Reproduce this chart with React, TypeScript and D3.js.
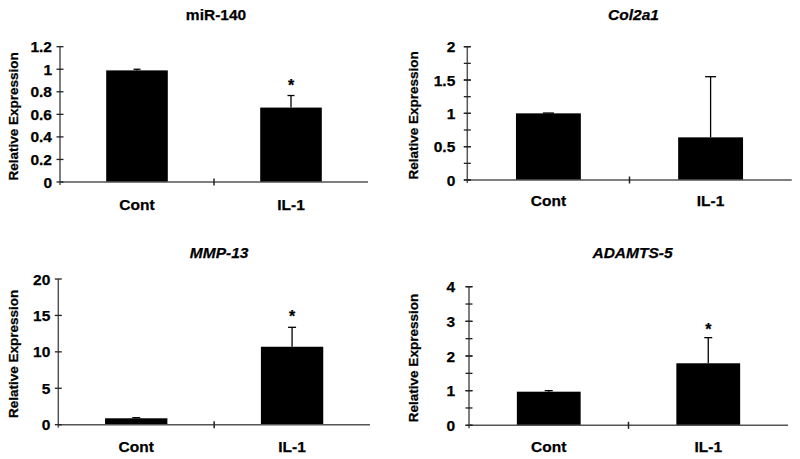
import React from "react";
import * as d3 from "d3";

const categories = ["Cont", "IL-1"];
const titles = ["miR-140", "Col2a1", "MMP-13", "ADAMTS-5"];
const titleItalic = [false, true, true, true];
const values = [
  [0.99, 0.66],
  [1.0, 0.64],
  [0.88, 10.7],
  [0.97, 1.79],
];
const errors = [
  [0.01, 0.107],
  [0.005, 0.91],
  [0.08, 2.67],
  [0.03, 0.74],
];
const significant = [
  [false, true],
  [false, false],
  [false, true],
  [false, true],
];
const yMax = [1.2, 2, 20, 4];
const majorStep = [0.2, 0.5, 5, 1];
const minorStep = [0, 0.25, 0, 0.5];
const yLabel = "Relative Expression";

// layout (pixel geometry of each panel)
const layout = [
  { x0: 60, x1: 368, y0: 182, y1: 46.7, lab: 8, titleY: 19.5, titleDx: 2, catY: 209.5, yLabX: 13.5, cap: 7, star: 5 },
  { x0: 467.3, x1: 791.7, y0: 180, y1: 46.7, lab: 12, titleY: 19.5, titleDx: 4, catY: 206, yLabX: 413.5, cap: 11, star: 5 },
  { x0: 58.3, x1: 370, y0: 424.7, y1: 279, lab: 8, titleY: 257.5, titleDx: 5, catY: 451.7, yLabX: 13.5, cap: 8, star: 5 },
  { x0: 469, x1: 788, y0: 425.3, y1: 286.7, lab: 14, titleY: 257.7, titleDx: 4, catY: 451.7, yLabX: 413.5, cap: 8, star: 2.5 },
];

const FONT = "'Liberation Sans', Arial, sans-serif";
const AXIS = "#555";

function Panel({ i }: { i: number }) {
  const L = layout[i];
  const x = d3.scaleBand<string>().domain(categories).range([L.x0, L.x1]).padding(0);
  const y = d3.scaleLinear().domain([0, yMax[i]]).range([L.y0, L.y1]);
  const majors = d3.range(0, yMax[i] + majorStep[i] / 2, majorStep[i]);
  const minors = minorStep[i]
    ? d3.range(0, yMax[i] + minorStep[i] / 2, minorStep[i])
    : [];
  const bw = x.bandwidth() * 0.4;
  const fmt = (v: number) => String(+v.toFixed(2));
  const cx = (L.x0 + L.x1) / 2;
  const midY = (L.y0 + L.y1) / 2;
  const textStyle = { stroke: "#000", strokeWidth: 0.25 };
  return (
    <g>
      <text
        x={cx + L.titleDx}
        y={L.titleY}
        textAnchor="middle"
        fontFamily={FONT}
        fontWeight="bold"
        fontStyle={titleItalic[i] ? "italic" : "normal"}
        fontSize={15.5}
        style={textStyle}
      >
        {titles[i]}
      </text>
      <text
        transform={`translate(${L.yLabX},${midY + 2}) rotate(-90)`}
        textAnchor="middle"
        dominantBaseline="central"
        fontFamily={FONT}
        fontWeight="bold"
        fontSize={13.5}
        style={textStyle}
      >
        {yLabel}
      </text>
      {categories.map((c, j) => {
        const bx = (x(c) as number) + x.bandwidth() / 2;
        const top = y(values[i][j]);
        const et = y(values[i][j] + errors[i][j]);
        return (
          <g key={c}>
            <rect x={bx - bw / 2} y={top} width={bw} height={L.y0 - top} fill="#000" />
            <line x1={bx} x2={bx} y1={top} y2={et} stroke="#000" strokeWidth={1.3} />
            <line x1={bx - L.cap / 2} x2={bx + L.cap / 2} y1={et} y2={et} stroke="#000" strokeWidth={1.3} />
            {significant[i][j] && (
              <text
                x={bx}
                y={et - L.star}
                textAnchor="middle"
                fontFamily={FONT}
                fontWeight="bold"
                fontSize={16}
                style={textStyle}
              >
                *
              </text>
            )}
            <text
              x={bx}
              y={L.catY}
              textAnchor="middle"
              fontFamily={FONT}
              fontWeight="bold"
              fontSize={15.5}
              style={textStyle}
            >
              {c}
            </text>
          </g>
        );
      })}
      <line x1={L.x0} x2={L.x0} y1={L.y1} y2={L.y0 + 3} stroke={AXIS} strokeWidth={1.5} />
      <line x1={L.x0} x2={L.x1} y1={L.y0} y2={L.y0} stroke={AXIS} strokeWidth={1.5} />
      {minors.map((v) => (
        <line key={"m" + v} x1={L.x0 - 3.5} x2={L.x0 + 3.5} y1={y(v)} y2={y(v)} stroke="#222" strokeWidth={1.3} />
      ))}
      {majors.map((v) => (
        <g key={"M" + v}>
          <line x1={L.x0 - 3.5} x2={L.x0 + 3.5} y1={y(v)} y2={y(v)} stroke="#222" strokeWidth={1.3} />
          <text
            x={L.x0 - L.lab}
            y={y(v)}
            dy="0.36em"
            textAnchor="end"
            fontFamily={FONT}
            fontWeight="bold"
            fontSize={15.5}
            style={textStyle}
          >
            {fmt(v)}
          </text>
        </g>
      ))}
      <line
        x1={x(categories[1]) as number}
        x2={x(categories[1]) as number}
        y1={L.y0 - 3.5}
        y2={L.y0 + 3.5}
        stroke="#222"
        strokeWidth={1.5}
      />
    </g>
  );
}

export default function App() {
  return (
    <svg
      width={800}
      height={459}
      style={{ position: "absolute", left: 0, top: 0, background: "#fff" }}
    >
      <rect width={800} height={459} fill="#fff" />
      {titles.map((t, i) => (
        <Panel key={t} i={i} />
      ))}
    </svg>
  );
}
